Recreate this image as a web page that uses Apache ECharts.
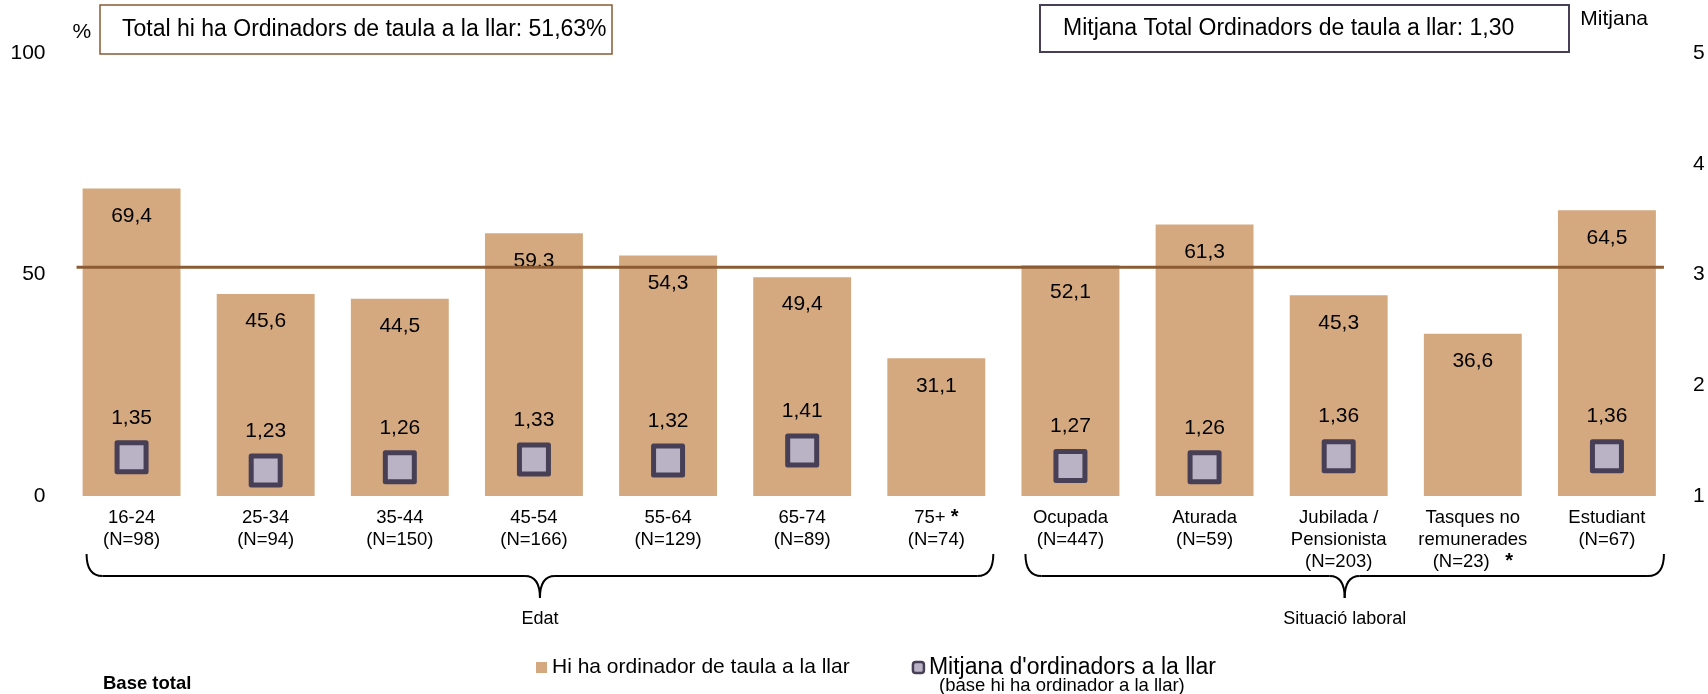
<!DOCTYPE html>
<html>
<head>
<meta charset="utf-8">
<script src="https://cdn.jsdelivr.net/npm/echarts@6/dist/echarts.min.js"></script>
<style>
  html, body { margin: 0; padding: 0; background: #fff; }
  #main { width: 1708px; height: 694px; }
</style>
</head>
<body>
<div id="main"></div>
<script>
// categories (two groups: Edat 0-6, Situació laboral 7-11)
const catNames = ["16-24", "25-34", "35-44", "45-54", "55-64", "65-74", "75+",
  "Ocupada", "Aturada", "Jubilada /\nPensionista", "Tasques no\nremunerades", "Estudiant"];
const catN = [98, 94, 150, 166, 129, 89, 74, 447, 59, 203, 23, 67];
const lowBase = [false, false, false, false, false, false, true, false, false, false, true, false];

// % hi ha ordinador de taula a la llar
const pctValues = [69.4, 45.6, 44.5, 59.3, 54.3, 49.4, 31.1, 52.1, 61.3, 45.3, 36.6, 64.5];
const pctText = ["69,4", "45,6", "44,5", "59.3", "54,3", "49,4", "31,1", "52,1", "61,3", "45,3", "36,6", "64,5"];

// mitjana d'ordinadors (base hi ha ordinador)
const meanValues = [1.35, 1.23, 1.26, 1.33, 1.32, 1.41, null, 1.27, 1.26, 1.36, null, 1.36];

const totalPct = 51.63;
const groups = [
  { name: "Edat", from: 0, to: 6 },
  { name: "Situació laboral", from: 7, to: 11 }
];

const FONT = "Liberation Sans, Arial, sans-serif";
const barColor = "#D4A97F";
const lineColor = "#8B5B33";
const markDark = "#463F55";
const markLight = "#BAB3C5";

var chart = echarts.init(document.getElementById("main"));

function catLabel(value, idx) {
  var s = catNames[idx];
  if (lowBase[idx] && s.indexOf("\n") < 0) {
    return s + " {s|*}\n(N=" + catN[idx] + ")";
  }
  if (lowBase[idx]) {
    return s + "\n(N=" + catN[idx] + ")   {s|*}";
  }
  return s + "\n(N=" + catN[idx] + ")";
}

var option = {
  animation: false,
  textStyle: { fontFamily: FONT },
  grid: { left: 64.5, right: 34, top: 53, bottom: 198 },
  legend: {
    left: 531,
    top: 651,
    itemWidth: 11,
    itemHeight: 11,
    itemGap: 62,
    textStyle: { fontSize: 21, color: "#000", fontFamily: FONT },
    data: [
      { name: "Hi ha ordinador de taula a la llar", icon: "rect" },
      { name: "Mitjana d'ordinadors a la llar", icon: "roundRect",
        textStyle: { fontSize: 23 },
        itemStyle: { color: markLight, borderColor: markDark, borderWidth: 2.5 } }
    ]
  },
  xAxis: {
    type: "category",
    data: catNames,
    axisLine: { show: false },
    axisTick: { show: false },
    axisLabel: {
      interval: 0,
      margin: 11,
      fontSize: 18.5,
      lineHeight: 22,
      color: "#000",
      fontFamily: FONT,
      formatter: catLabel,
      rich: { s: { fontSize: 20, fontWeight: "bold", color: "#000", verticalAlign: "top", lineHeight: 22 } }
    }
  },
  yAxis: [
    {
      type: "value",
      min: 0,
      max: 100,
      interval: 50,
      name: "%",
      nameLocation: "end",
      nameGap: 10,
      nameTextStyle: { fontSize: 21, color: "#000", align: "left", padding: [0, 0, 0, 8] },
      axisLine: { show: false },
      axisTick: { show: false },
      splitLine: { show: false },
      axisLabel: { fontSize: 21, color: "#000", margin: 19 }
    },
    {
      type: "value",
      min: 1,
      max: 5,
      interval: 1,
      name: "Mitjana",
      nameLocation: "end",
      nameGap: 23,
      nameTextStyle: { fontSize: 21, color: "#000", align: "right", padding: [0, 26, 0, 0] },
      axisLine: { show: false },
      axisTick: { show: false },
      splitLine: { show: false },
      axisLabel: { fontSize: 21, color: "#000", margin: 19 }
    }
  ],
  series: [
    {
      name: "Hi ha ordinador de taula a la llar",
      type: "bar",
      data: pctValues,
      barCategoryGap: "27%",
      itemStyle: { color: barColor },
      label: {
        show: true,
        position: "insideTop",
        distance: 17,
        fontSize: 21,
        color: "#000",
        formatter: function (p) { return pctText[p.dataIndex]; }
      }
    },
    {
      name: "Mitjana d'ordinadors a la llar",
      type: "line",
      yAxisIndex: 1,
      data: meanValues,
      symbol: "rect",
      symbolSize: 29,
      showAllSymbol: true,
      lineStyle: { opacity: 0 },
      itemStyle: { color: markLight, borderColor: markDark, borderWidth: 5, borderJoin: "round" },
      label: {
        show: true,
        position: "top",
        distance: 12,
        fontSize: 21,
        color: "#000",
        formatter: function (p) { return p.value == null ? "" : p.value.toFixed(2).replace(".", ","); }
      }
    }
  ]
};

chart.setOption(option);

// total line: y from the % axis, ends near first/last bars
var yTot = chart.convertToPixel({ yAxisIndex: 0 }, totalPct);
var xFirst = chart.convertToPixel({ xAxisIndex: 0 }, 0);
var xLast = chart.convertToPixel({ xAxisIndex: 0 }, catNames.length - 1);

var gfx = [
  { type: "line", silent: true, z: 5,
    shape: { x1: xFirst - 55, y1: yTot, x2: xLast + 57, y2: yTot },
    style: { stroke: lineColor, lineWidth: 3 } },
  { type: "rect", shape: { x: 100, y: 5, width: 512, height: 49 },
    style: { fill: "#fff", stroke: lineColor, lineWidth: 1.5 } },
  { type: "text", x: 122, y: 30,
    style: { text: "Total hi ha Ordinadors de taula a la llar: 51,63%", font: "23px " + FONT, fill: "#000", verticalAlign: "middle" } },
  { type: "rect", shape: { x: 1040, y: 5, width: 529, height: 47 },
    style: { fill: "#fff", stroke: markDark, lineWidth: 2 } },
  { type: "text", x: 1063, y: 29,
    style: { text: "Mitjana Total Ordinadors de taula a llar: 1,30", font: "23px " + FONT, fill: "#000", verticalAlign: "middle" } },
  { type: "text", x: 103, y: 684,
    style: { text: "Base total", font: "bold 18.5px " + FONT, fill: "#000", verticalAlign: "middle" } },
  { type: "text", x: 939, y: 686,
    style: { text: "(base hi ha ordinador a la llar)", font: "18.5px " + FONT, fill: "#000", verticalAlign: "middle" } }
];

// braces under the category groups, placed from the axis itself
groups.forEach(function (g) {
  var x1 = chart.convertToPixel({ xAxisIndex: 0 }, g.from) - 45;
  var x2 = chart.convertToPixel({ xAxisIndex: 0 }, g.to) + 57;
  var xm = (x1 + x2) / 2;
  var yt = 554, yh = 576, yb = 598;
  var st = { stroke: "#000", lineWidth: 2, fill: null };
  gfx.push({ type: "bezierCurve", shape: { x1: x1, y1: yt, x2: x1 + 16, y2: yh, cpx1: x1, cpy1: yh }, style: st });
  gfx.push({ type: "line", shape: { x1: x1 + 16, y1: yh, x2: xm - 15, y2: yh }, style: st });
  gfx.push({ type: "bezierCurve", shape: { x1: xm - 15, y1: yh, x2: xm, y2: yb, cpx1: xm, cpy1: yh }, style: st });
  gfx.push({ type: "bezierCurve", shape: { x1: xm + 15, y1: yh, x2: xm, y2: yb, cpx1: xm, cpy1: yh }, style: st });
  gfx.push({ type: "line", shape: { x1: xm + 15, y1: yh, x2: x2 - 16, y2: yh }, style: st });
  gfx.push({ type: "bezierCurve", shape: { x1: x2 - 16, y1: yh, x2: x2, y2: yt, cpx1: x2, cpy1: yh }, style: st });
  gfx.push({ type: "text", x: xm, y: 619,
    style: { text: g.name, font: "18px " + FONT, fill: "#000", align: "center", verticalAlign: "middle" } });
});

chart.setOption({ graphic: gfx });
</script>
</body>
</html>
